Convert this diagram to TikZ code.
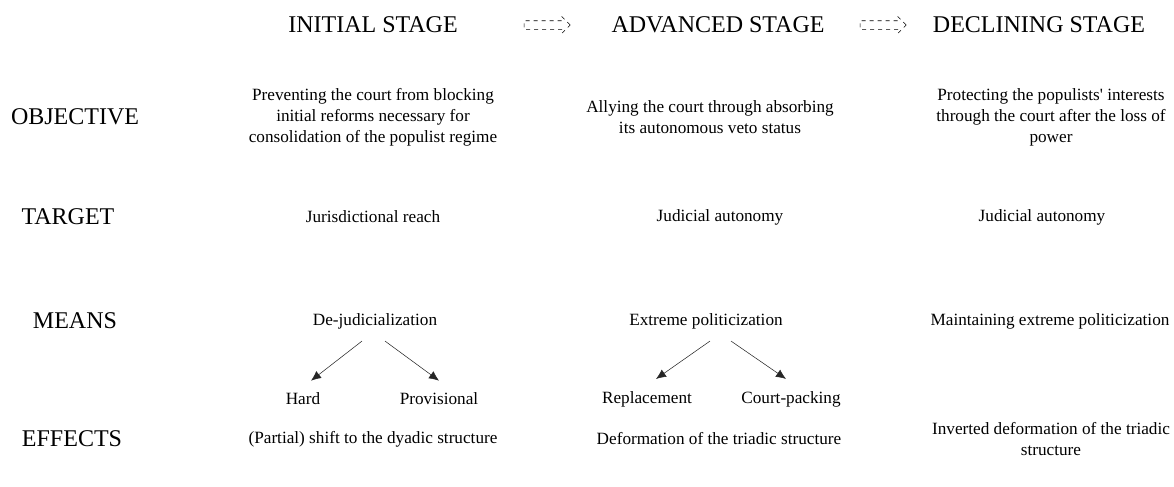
\documentclass[tikz,border=0pt]{standalone}
\usepackage{fontspec}
\setmainfont{Liberation Serif}[Ligatures=Common]
\newfontfamily\timesfont{Liberation Serif}[Ligatures=Common]
\usetikzlibrary{shapes.arrows,arrows.meta}
\newcommand{\ColA}{373}
\newcommand{\ColB}{715}
\newcommand{\ColC}{1051}
\newcommand{\RowLab}{75}

\begin{document}
\begin{tikzpicture}[x=0.75pt,y=-0.75pt,
  head/.style={font=\timesfont\fontsize{18}{20}\selectfont, inner sep=0pt},
  txt/.style={font=\timesfont\fontsize{12.9}{15.75}\selectfont, align=center, inner sep=0pt},
  stagearrow/.style={single arrow, draw, dashed, thin, minimum height=46*0.75pt,
    inner xsep=0pt, inner ysep=3pt, single arrow head extend=3pt},
  branch/.style={-{Latex[length=7.5pt,width=6.5pt]}, thin, draw=black!85}]

\useasboundingbox (0,0) rectangle (1174,486);

% stages
\node[head] (initial) at (\ColA,25) {INITIAL STAGE};
\node[head] (advanced) at (718,25) {ADVANCED STAGE};
\node[head] (declining) at (1039,25) {DECLINING STAGE};
\node[stagearrow] (arrA) at (545,25) {};
\node[stagearrow] (arrB) at (881,25) {};

% row labels
\node[head] (objective) at (\RowLab,117) {OBJECTIVE};
\node[head] (target) at (68,217) {TARGET};
\node[head] (means) at (\RowLab,321) {MEANS};
\node[head] (effects) at (72,439) {EFFECTS};

% objective
\node[txt] (objA) at (\ColA,117) {Preventing the court from blocking\\initial reforms necessary for\\consolidation of the populist regime};
\node[txt] (objB) at (710,117) {Allying the court through absorbing\\its autonomous veto status};
\node[txt] (objC) at (\ColC,117) {Protecting the populists' interests\\through the court after the loss of\\power};

% target
\node[txt] (tarA) at (\ColA,217) {Jurisdictional reach};
\node[txt] (tarB) at (720,217) {Judicial autonomy};
\node[txt] (tarC) at (1042,217) {Judicial autonomy};

% means
\node[txt] (meaA) at (375,321) {De-judicialization};
\node[txt] (meaB) at (706,321) {Extreme politicization};
\node[txt] (meaC) at (1050,321) {Maintaining extreme politicization};

\node[txt] (hard) at (303,399) {Hard};
\node[txt] (prov) at (439,399) {Provisional};
\node[txt] (repl) at (647,399) {Replacement};
\node[txt] (pack) at (791,399) {Court-packing};

\draw[branch] ([xshift=-13*0.75pt, yshift=-12*0.75pt]meaA.south) -- ([xshift=8*0.75pt, yshift=12*0.75pt]hard.north);
\draw[branch] ([xshift=10*0.75pt, yshift=-12*0.75pt]meaA.south) -- ([yshift=12*0.75pt]prov.north);
\draw[branch] ([xshift=4*0.75pt, yshift=-12*0.75pt]meaB.south) -- ([xshift=9*0.75pt, yshift=12*0.75pt]repl.north);
\draw[branch] ([xshift=25*0.75pt, yshift=-12*0.75pt]meaB.south) -- ([xshift=-5*0.75pt, yshift=12*0.75pt]pack.north);

% effects
\node[txt] (effA) at (\ColA,439) {(Partial) shift to the dyadic structure};
\node[txt] (effB) at (719,439) {Deformation of the triadic structure};
\node[txt] (effC) at (\ColC,439) {Inverted deformation of the triadic\\structure};

\end{tikzpicture}
\end{document}
